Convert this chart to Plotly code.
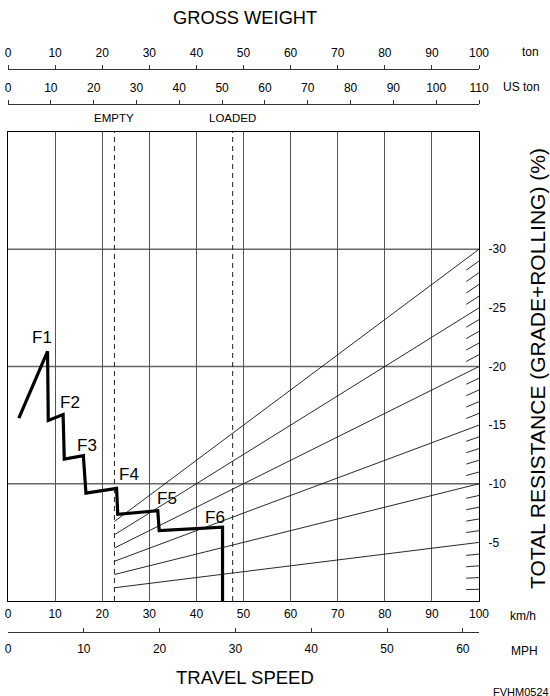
import plotly.graph_objects as go

# ---------------- data ----------------
speed_ticks = [0, 10, 20, 30, 40, 50, 60, 70, 80, 90, 100]          # km/h
mph_ticks = [0, 10, 20, 30, 40, 50, 60]
ton_ticks = [0, 10, 20, 30, 40, 50, 60, 70, 80, 90, 100]
uston_ticks = [0, 10, 20, 30, 40, 50, 60, 70, 80, 90, 100, 110]
resist_ticks = [-30, -25, -20, -15, -10, -5]
resist_grid = [-10, -20, -30]

# retarder curve (km/h, total resistance %)
curve_speed = [2.3, 8.4, 8.55, 11.7, 11.95, 16.0, 16.55, 23.05, 23.3, 31.8, 32.1, 45.55, 45.55]
curve_resist = [-15.6, -21.3, -15.4, -15.9, -12.1, -12.4, -9.2, -9.6, -7.4, -7.7, -6.0, -6.3, 0.0]

gear_names = ["F1", "F2", "F3", "F4", "F5", "F6"]
gear_speed = [7.2, 13.2, 16.8, 25.7, 33.7, 43.9]
gear_resist = [-22.5, -16.9, -13.3, -10.8, -8.7, -7.15]

empty_weight = 22.6    # ton
loaded_weight = 47.7   # ton
major_grades = [5, 10, 15, 20, 25, 30]
minor_grades = [g for g in range(1, 30) if g % 5 != 0]
hatch_start_weight = 97.3

# ---------------- layout helpers ----------------
W, H = 550, 696
ML, MR, MT, MB = 8, 71, 30, 40
PW, PH = W - ML - MR, H - MT - MB
def px_x(px):                # page pixel -> paper
    return (px - ML) / PW
def px_y(py):
    return (H - MB - py) / PH

FONT = "Liberation Sans, Arial, Helvetica, sans-serif"

fig = go.Figure()

# grade (resistance) lines, drawn against gross weight axis
for g in major_grades:
    fig.add_trace(go.Scatter(
        x=[empty_weight, 100], y=[-g * empty_weight / 100, -g],
        xaxis="x2", yaxis="y", mode="lines",
        line=dict(color="#111", width=0.9), hoverinfo="skip", showlegend=False))
for g in minor_grades:
    fig.add_trace(go.Scatter(
        x=[hatch_start_weight, 100], y=[-g * hatch_start_weight / 100, -g],
        xaxis="x2", yaxis="y", mode="lines",
        line=dict(color="#111", width=0.9), hoverinfo="skip", showlegend=False))

# empty / loaded dashed lines
for wt in [empty_weight, loaded_weight]:
    fig.add_trace(go.Scatter(
        x=[wt, wt], y=[0, -40], xaxis="x2", yaxis="y", mode="lines",
        line=dict(color="#222", width=1, dash="5px,4px"),
        hoverinfo="skip", showlegend=False))

# US ton axis & MPH axis carrier traces (invisible)
fig.add_trace(go.Scatter(x=[0, 110], y=[0, 0], xaxis="x3", yaxis="y", mode="lines",
                         line=dict(width=0), hoverinfo="skip", showlegend=False))
fig.add_trace(go.Scatter(x=[0, 60], y=[0, 0], xaxis="x4", yaxis="y", mode="lines",
                         line=dict(width=0), hoverinfo="skip", showlegend=False))

# retarder curve
fig.add_trace(go.Scatter(
    x=curve_speed, y=curve_resist, xaxis="x", yaxis="y", mode="lines",
    line=dict(color="black", width=3.2), hoverinfo="skip", showlegend=False))

shapes = []
for v in resist_grid:
    shapes.append(dict(type="line", xref="paper", yref="y", x0=0, x1=1, y0=v, y1=v,
                       line=dict(color="#666", width=1.5), layer="below"))

def ann(x, y, text, size, xref="paper", yref="paper", **kw):
    d = dict(x=x, y=y, xref=xref, yref=yref, text=text, showarrow=False,
             xanchor="center", yanchor="middle",
             font=dict(size=size, family=FONT, color="black"))
    d.update(kw)
    return d

annotations = []
for name, sx, sy in zip(gear_names, gear_speed, gear_resist):
    annotations.append(ann(sx, sy, name, 17, xref="x", yref="y"))
annotations += [
    ann(px_x(245), px_y(18), "GROSS WEIGHT", 18.3),
    ann(px_x(245), px_y(677), "TRAVEL SPEED", 18.5),
    ann(px_x(530), px_y(52), "ton", 12),
    ann(px_x(521), px_y(87), "US ton", 12),
    ann(px_x(523), px_y(616), "km/h", 12),
    ann(px_x(524), px_y(651), "MPH", 12),
    ann(empty_weight, px_y(118), "EMPTY", 11.5, xref="x2"),
    ann(loaded_weight, px_y(118), "LOADED", 11.5, xref="x2"),
    ann(px_x(537), px_y(369), "TOTAL RESISTANCE (GRADE+ROLLING) (%)", 21, textangle=-90),
    ann(px_x(551), px_y(684), "FVHM0524", 11, xanchor="right", yanchor="top"),
]

dom_y = [px_y(601), px_y(132)]

fig.update_layout(
    width=W, height=H,
    margin=dict(l=ML, r=MR, t=MT, b=MB),
    paper_bgcolor="white", plot_bgcolor="white",
    font=dict(family=FONT, color="black", size=12),
    showlegend=False,
    shapes=shapes,
    annotations=annotations,
    xaxis=dict(domain=[0, 1], range=[0, 100], anchor="y",
               tickvals=speed_ticks, ticktext=[str(v) for v in speed_ticks],
               showgrid=True, gridcolor="#555", gridwidth=1,
               showline=True, mirror=True, linecolor="black", linewidth=1.3,
               ticks="", ticklabelstandoff=1, zeroline=False,
               ticklabeloverflow="allow",
               tickfont=dict(size=12), automargin=False, fixedrange=True),
    xaxis2=dict(overlaying="x", anchor="free", position=px_y(69), side="top",
                range=[0, 100], tickvals=ton_ticks, showgrid=False, zeroline=False,
                showline=True, linecolor="#333", linewidth=1, ticks="outside",
                ticklen=4, tickcolor="#333", tickfont=dict(size=12),
                ticklabelstandoff=3, ticklabeloverflow="allow", automargin=False),
    xaxis3=dict(overlaying="x", anchor="free", position=px_y(104), side="top",
                range=[0, 110], tickvals=uston_ticks, showgrid=False, zeroline=False,
                showline=True, linecolor="#333", linewidth=1, ticks="outside",
                ticklen=4, tickcolor="#333", tickfont=dict(size=12),
                ticklabelstandoff=3, ticklabeloverflow="allow", automargin=False),
    xaxis4=dict(overlaying="x", anchor="free", position=px_y(632), side="bottom",
                range=[0, 100 / 1.609344], tickvals=mph_ticks, showgrid=False,
                zeroline=False, showline=True, linecolor="#333", linewidth=1,
                ticks="inside", ticklen=4, tickcolor="#333",
                ticklabelstandoff=6, ticklabeloverflow="allow",
                tickfont=dict(size=12), automargin=False),
    yaxis=dict(domain=dom_y, range=[0, -40], side="right", anchor="x",
               tickvals=resist_ticks, ticktext=[str(v) for v in resist_ticks],
               showgrid=False, zeroline=False, showline=True, mirror=True,
               linecolor="black", linewidth=1.3, ticks="", ticklabelstandoff=6,
               tickfont=dict(size=12), automargin=False),
)

fig.write_html("out.html",
               config={"displayModeBar": False},
               post_script="document.body.style.margin='0';document.body.style.overflow='hidden';")
